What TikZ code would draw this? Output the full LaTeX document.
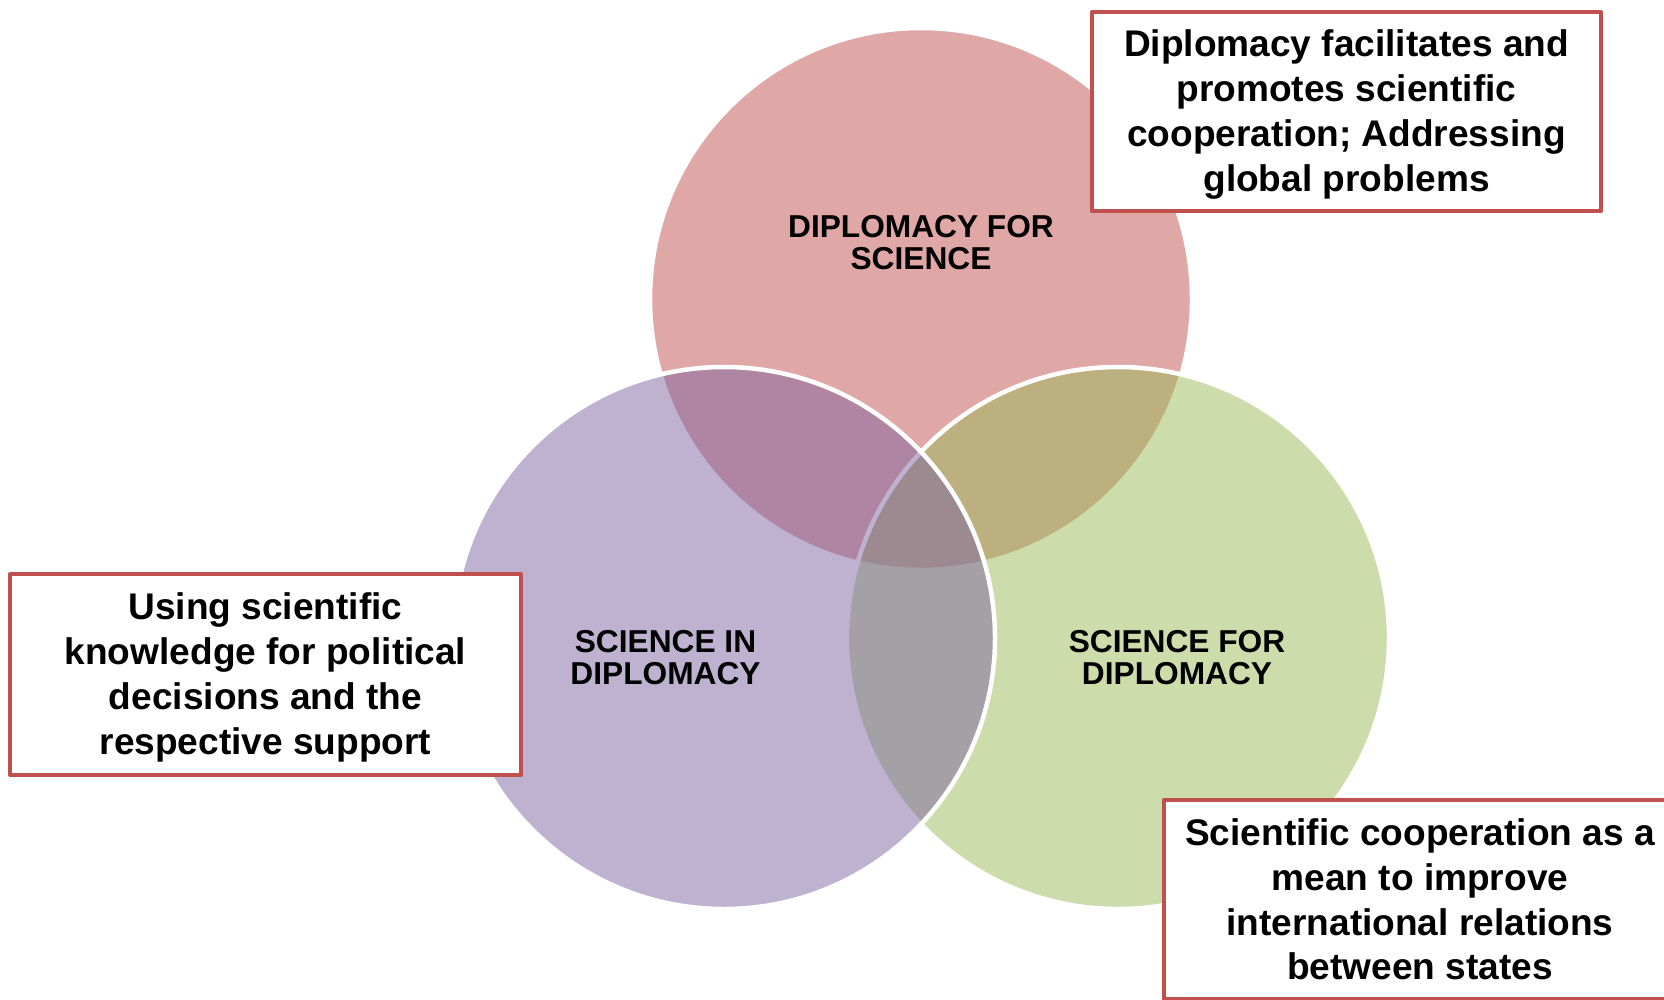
\documentclass[tikz,border=0pt]{standalone}
\usepackage{fontspec}
\setmainfont{Liberation Sans}
\definecolor{cred}{HTML}{C0504D}
\definecolor{cpurple}{HTML}{8064A2}
\definecolor{cgreen}{HTML}{9BBB59}
\begin{document}
\begin{tikzpicture}[x=1bp,y=-1bp,
  venn/.style={draw=white, line width=4.5bp, fill opacity=0.5},
  infobox/.style={draw=cred, line width=4bp, fill=white, minimum width=510bp, minimum height=200bp, inner sep=0pt, line join=round},
  boxtext/.style={anchor=north, inner sep=0pt, align=center, font=\fontsize{37.2}{45}\selectfont\bfseries},
  vlabel/.style={anchor=north, inner sep=0pt, align=center, font=\fontsize{31.8}{32}\selectfont\bfseries}]
\useasboundingbox (0,0) rectangle (1664,999);
\clip (0,0) rectangle (1664,999);
\fill[white] (0,0) rectangle (1664,999);
% circles (order: top, right, left)
\draw[venn, fill=cred] (921,299) circle [radius=271bp];
\draw[venn, fill=cgreen] (1118,638) circle [radius=271bp];
\draw[venn, fill=cpurple] (724,638) circle [radius=271bp];
% circle labels
\node[vlabel] (ldfs) at (921,215.1) {DIPLOMACY FOR\\SCIENCE};
\node[vlabel] (lsid) at (665.5,629.8) {SCIENCE IN\\DIPLOMACY};
\node[vlabel] (lsfd) at (1177,629.8) {SCIENCE FOR\\DIPLOMACY};
% boxes
\node[infobox, minimum width=509bp, minimum height=199bp] (btr) at (1346.5,111.5) {};
\node[infobox, minimum width=511bp, minimum height=201bp] (bl) at (265.5,674.5) {};
\node[infobox, minimum width=512bp, minimum height=199bp] (bbr) at (1420,899.5) {};
\node[boxtext] (ttr) at (1346.5,29.6) {Diplomacy facilitates and\\promotes scientific\\cooperation; Addressing\\global problems};
\node[boxtext] (tl) at (265.5,592.6) {Using scientific\\knowledge for political\\decisions and the\\respective support};
\node[boxtext] (tbr) at (1420,818.4) {Scientific cooperation as a\\mean to improve\\international relations\\between states};
\end{tikzpicture}
\end{document}
